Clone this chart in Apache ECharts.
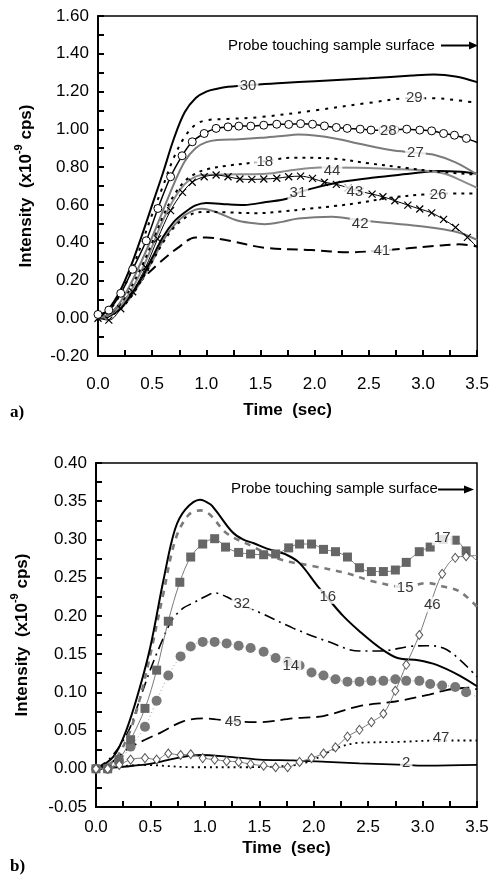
<!DOCTYPE html>
<html><head><meta charset="utf-8">
<script src="https://cdn.jsdelivr.net/npm/echarts/dist/echarts.min.js"></script>
<style>html,body{margin:0;padding:0;background:#fff}#c{width:492px;height:876px}</style>
</head><body><div id="c"></div>
<script>
// ---------- Panel a data ----------
const a30 = [[0,0],[0.1,0.05],[0.2,0.14],[0.3,0.27],[0.4,0.43],[0.5,0.6],[0.6,0.77],[0.7,0.95],[0.8,1.09],[0.9,1.165],[1.0,1.2],[1.1,1.215],[1.2,1.225],[1.4,1.235],[1.7,1.245],[2.0,1.255],[2.5,1.27],[2.9,1.285],[3.1,1.29],[3.3,1.28],[3.5,1.25]];
const a29 = [[0,0],[0.1,0.04],[0.2,0.12],[0.3,0.24],[0.4,0.39],[0.5,0.55],[0.6,0.7],[0.7,0.85],[0.8,0.96],[0.9,1.025],[1.0,1.048],[1.2,1.055],[1.5,1.065],[2.0,1.10],[2.5,1.14],[2.9,1.165],[3.1,1.165],[3.3,1.155],[3.5,1.14]];
const a28 = [[0,0.02],[0.10,0.043],[0.21,0.132],[0.32,0.259],[0.445,0.41],[0.553,0.581],[0.67,0.749],[0.776,0.86],[0.87,0.934],[0.98,0.978],[1.09,1.005],[1.20,1.013],[1.30,1.017],[1.41,1.017],[1.53,1.022],[1.65,1.027],[1.76,1.026],[1.87,1.03],[1.98,1.027],[2.09,1.018],[2.20,1.01],[2.30,1.005],[2.42,1.001],[2.52,0.996],[2.63,0.995],[2.74,0.998],[2.85,1.001],[2.97,0.996],[3.08,0.992],[3.19,0.978],[3.29,0.969],[3.40,0.952],[3.5,0.93]];
const a27 = [[0,0],[0.1,0.02],[0.2,0.08],[0.3,0.18],[0.4,0.3],[0.5,0.43],[0.6,0.57],[0.7,0.71],[0.8,0.83],[0.9,0.9],[1.0,0.932],[1.1,0.944],[1.3,0.948],[1.5,0.955],[1.7,0.965],[1.85,0.972],[2.0,0.967],[2.2,0.95],[2.4,0.925],[2.7,0.89],[2.93,0.876],[3.1,0.865],[3.3,0.825],[3.5,0.76]];
const a18 = [[0,0],[0.1,0.02],[0.2,0.07],[0.3,0.16],[0.4,0.27],[0.5,0.4],[0.6,0.54],[0.7,0.65],[0.8,0.725],[0.9,0.765],[1.0,0.788],[1.2,0.808],[1.5,0.828],[1.8,0.85],[2.15,0.846],[2.5,0.82],[2.85,0.795],[3.15,0.775],[3.5,0.76]];
const a44 = [[0,0],[0.1,0.015],[0.2,0.06],[0.3,0.14],[0.4,0.25],[0.5,0.38],[0.6,0.52],[0.7,0.63],[0.8,0.71],[0.9,0.75],[1.0,0.76],[1.3,0.762],[1.55,0.765],[1.8,0.785],[2.05,0.798],[2.4,0.797],[2.7,0.79],[3.0,0.782],[3.2,0.765],[3.35,0.73],[3.5,0.69]];
const a43 = [[0,0],[0.1,-0.01],[0.21,0.05],[0.32,0.14],[0.44,0.27],[0.55,0.42],[0.67,0.57],[0.78,0.666],[0.87,0.72],[0.98,0.749],[1.09,0.758],[1.20,0.749],[1.31,0.737],[1.42,0.735],[1.53,0.737],[1.65,0.741],[1.76,0.749],[1.87,0.752],[1.98,0.74],[2.09,0.72],[2.20,0.709],[2.31,0.69],[2.42,0.672],[2.53,0.657],[2.63,0.643],[2.74,0.622],[2.86,0.599],[2.97,0.578],[3.08,0.558],[3.19,0.523],[3.30,0.481],[3.41,0.428],[3.5,0.375]];
const a31 = [[0,0],[0.1,0.01],[0.2,0.05],[0.3,0.12],[0.4,0.21],[0.5,0.32],[0.6,0.43],[0.7,0.51],[0.8,0.56],[0.9,0.597],[1.0,0.61],[1.2,0.603],[1.35,0.6],[1.55,0.615],[1.75,0.634],[1.85,0.664],[2.0,0.69],[2.25,0.722],[2.55,0.745],[2.85,0.763],[3.15,0.78],[3.35,0.775],[3.5,0.765]];
const a26 = [[0,0],[0.1,0.01],[0.2,0.045],[0.3,0.11],[0.4,0.2],[0.5,0.3],[0.6,0.4],[0.7,0.48],[0.8,0.53],[0.9,0.558],[1.0,0.563],[1.2,0.56],[1.47,0.556],[1.7,0.565],[1.95,0.58],[2.2,0.595],[2.4,0.61],[2.7,0.638],[3.0,0.655],[3.2,0.66],[3.5,0.66]];
const a42 = [[0,0],[0.1,0.01],[0.2,0.045],[0.3,0.11],[0.4,0.2],[0.5,0.3],[0.6,0.41],[0.7,0.49],[0.8,0.545],[0.9,0.575],[0.96,0.58],[1.1,0.56],[1.27,0.52],[1.4,0.505],[1.54,0.498],[1.7,0.51],[1.85,0.528],[2.16,0.537],[2.4,0.52],[2.65,0.505],[3.0,0.486],[3.2,0.47],[3.35,0.45],[3.5,0.415]];
const a41 = [[0,0],[0.1,0.02],[0.25,0.1],[0.4,0.2],[0.56,0.29],[0.75,0.378],[0.9,0.428],[1.0,0.428],[1.18,0.414],[1.54,0.373],[1.97,0.361],[2.32,0.349],[2.6,0.358],[2.86,0.37],[3.1,0.382],[3.33,0.391],[3.5,0.38]];
const labelsA = [['30',1.385,1.23],['29',2.92,1.168],['28',2.68,0.992],['27',2.93,0.876],['18',1.54,0.828],['44',2.16,0.779],['31',1.845,0.666],['43',2.37,0.669],['26',3.14,0.655],['42',2.42,0.498],['41',2.62,0.357]];

// ---------- Panel b data ----------
const b16 = [[0,0],[0.16,0.016],[0.28,0.051],[0.4,0.105],[0.5,0.16],[0.62,0.247],[0.725,0.313],[0.82,0.339],[0.955,0.352],[1.05,0.346],[1.1,0.338],[1.25,0.31],[1.35,0.3],[1.45,0.295],[1.57,0.288],[1.75,0.28],[1.87,0.269],[2.03,0.24],[2.13,0.223],[2.27,0.2],[2.42,0.18],[2.61,0.158],[2.77,0.145],[2.96,0.142],[3.13,0.136],[3.34,0.122],[3.5,0.108]];
const b15 = [[0,0],[0.16,0.01],[0.3,0.045],[0.4,0.09],[0.5,0.15],[0.62,0.23],[0.73,0.3],[0.85,0.332],[0.96,0.338],[1.05,0.332],[1.2,0.308],[1.42,0.292],[1.69,0.274],[2.0,0.265],[2.3,0.256],[2.55,0.245],[2.84,0.238],[3.04,0.243],[3.2,0.238],[3.34,0.232],[3.5,0.212]];
const b17 = [[0,0],[0.107,0],[0.211,0.012],[0.318,0.038],[0.45,0.079],[0.557,0.129],[0.664,0.193],[0.77,0.244],[0.87,0.277],[0.98,0.294],[1.09,0.301],[1.19,0.29],[1.31,0.283],[1.42,0.281],[1.54,0.28],[1.65,0.281],[1.77,0.289],[1.87,0.294],[1.98,0.294],[2.09,0.287],[2.20,0.284],[2.31,0.277],[2.42,0.263],[2.53,0.258],[2.64,0.258],[2.75,0.26],[2.85,0.27],[2.97,0.284],[3.07,0.29],[3.19,0.3],[3.30,0.299],[3.40,0.285],[3.5,0.272]];
const b14 = [[0,0],[0.107,0],[0.211,0.01],[0.318,0.029],[0.45,0.055],[0.557,0.089],[0.664,0.122],[0.777,0.147],[0.87,0.16],[0.98,0.166],[1.09,0.166],[1.2,0.164],[1.31,0.161],[1.42,0.158],[1.54,0.153],[1.65,0.145],[1.76,0.14],[1.87,0.135],[1.98,0.126],[2.09,0.122],[2.20,0.117],[2.31,0.114],[2.42,0.114],[2.53,0.115],[2.64,0.115],[2.75,0.117],[2.85,0.115],[2.97,0.115],[3.07,0.111],[3.18,0.109],[3.30,0.107],[3.40,0.1],[3.5,0.094]];
const b32 = [[0,0],[0.144,0.016],[0.3,0.05],[0.4,0.09],[0.5,0.13],[0.6,0.165],[0.7,0.195],[0.8,0.21],[0.894,0.217],[1.0,0.225],[1.09,0.23],[1.2,0.225],[1.34,0.214],[1.51,0.204],[1.81,0.184],[2.12,0.167],[2.42,0.154],[2.61,0.154],[2.88,0.16],[3.04,0.161],[3.19,0.158],[3.34,0.143],[3.5,0.12]];
const b45 = [[0,0],[0.11,0.005],[0.2,0.015],[0.28,0.025],[0.45,0.038],[0.59,0.047],[0.8,0.062],[0.985,0.066],[1.26,0.062],[1.51,0.061],[1.81,0.066],[2.09,0.069],[2.42,0.082],[2.75,0.088],[3.06,0.097],[3.22,0.103],[3.43,0.106],[3.5,0.104]];
const b46 = [[0,0],[0.107,0],[0.214,0.005],[0.318,0.012],[0.45,0.014],[0.557,0.012],[0.664,0.02],[0.777,0.018],[0.87,0.019],[0.98,0.014],[1.09,0.012],[1.2,0.01],[1.31,0.009],[1.42,0.006],[1.54,0.004],[1.65,0.002],[1.76,0.002],[1.87,0.009],[1.98,0.014],[2.09,0.02],[2.20,0.028],[2.31,0.042],[2.42,0.051],[2.53,0.061],[2.64,0.072],[2.75,0.102],[2.85,0.136],[2.97,0.175],[3.07,0.215],[3.18,0.255],[3.30,0.276],[3.40,0.278],[3.5,0.279]];
const b47 = [[0,0],[0.2,0.003],[0.43,0.005],[0.9,0.002],[1.35,0.002],[1.84,0.005],[2.0,0.012],[2.21,0.027],[2.42,0.034],[2.75,0.035],[3.17,0.037],[3.5,0.037]];
const b2 = [[0,0],[0.28,0.003],[0.52,0.007],[0.74,0.014],[0.96,0.018],[1.2,0.016],[1.5,0.012],[1.81,0.011],[2.12,0.009],[2.42,0.007],[2.85,0.005],[3.04,0.004],[3.5,0.005]];
const labelsB = [['16',2.13,0.2255],['15',2.84,0.2365],['17',3.18,0.302],['46',3.09,0.2147],['32',1.34,0.216],['14',1.79,0.135],['45',1.26,0.062],['47',3.17,0.040],['2',2.85,0.0075]];

const FONT = 'Liberation Sans, Arial, sans-serif';
const GRAY = '#7a7a7a';
const TICK = '#000';

function noLastSymbol(arr){ return arr.map((p,i)=> i===arr.length-1 ? {value:p, symbol:'none'} : p); }

function xAx(gi, margin, gap){
  return {type:'value', gridIndex:gi, min:0, max:3.5, interval:0.5,
    axisLine:{show:true,onZero:false,lineStyle:{color:'#000',width:2}},
    axisTick:{show:true,inside:true,length:6,lineStyle:{color:TICK,width:2}},
    minorTick:{show:true,splitNumber:2,length:6,lineStyle:{color:TICK,width:2}},
    axisLabel:{formatter:v=>v.toFixed(1),color:'#000',fontSize:17,margin:margin,fontFamily:FONT},
    splitLine:{show:false},
    name:'Time  (sec)', nameLocation:'middle', nameGap:gap,
    nameTextStyle:{fontWeight:'bold',fontSize:17,color:'#000',fontFamily:FONT}};
}
function yAx(gi, min, max, step, gap){
  return {type:'value', gridIndex:gi, min:min, max:max, interval:step,
    axisLine:{show:true,onZero:false,lineStyle:{color:'#000',width:2}},
    axisTick:{show:true,inside:true,length:6,lineStyle:{color:TICK,width:2}},
    minorTick:{show:true,splitNumber:2,length:6,lineStyle:{color:TICK,width:2}},
    axisLabel:{formatter:v=>v.toFixed(2),color:'#000',fontSize:17,margin:9,fontFamily:FONT},
    splitLine:{show:false},
    name:'{a|Intensity  (x10}{s|-9}{a| cps)}', nameLocation:'middle', nameGap:gap,
    nameTextStyle:{color:'#000',rich:{
      a:{fontWeight:'bold',fontSize:17,fontFamily:FONT,color:'#000',lineHeight:22,verticalAlign:'bottom'},
      s:{fontWeight:'bold',fontSize:11,fontFamily:FONT,color:'#000',lineHeight:22,verticalAlign:'top'}}}};
}
function line(gi, data, color, width, type, extra){
  return Object.assign({type:'line', xAxisIndex:gi, yAxisIndex:gi, data:data, smooth:0.35,
    showSymbol:false, symbol:'none', lineStyle:{color:color,width:width,type:type}, z:3, silent:true, animation:false}, extra||{});
}
function labels(gi, arr){
  return {type:'scatter', xAxisIndex:gi, yAxisIndex:gi, z:20, silent:true, animation:false,
    symbolSize:1, itemStyle:{color:'rgba(0,0,0,0)'},
    data: arr.map(d=>[d[1],d[2],d[0]]),
    label:{show:true, position:'inside', formatter:p=>p.value[2], color:'#000', fontSize:15,
      fontFamily:FONT, backgroundColor:'#fff', padding:[0,2]}};
}

const XMARK = 'path://M0,0L10,10M10,0L0,10';

const option = {
  animation:false,
  backgroundColor:'#fff',
  grid:[
    {left:98, top:16, width:381, height:340, show:true, borderColor:'#000', borderWidth:1.5},
    {left:96, top:463, width:381, height:344, show:true, borderColor:'#000', borderWidth:1.5}
  ],
  xAxis:[xAx(0,20,46), xAx(1,12,33)],
  yAxis:[yAx(0,-0.2,1.6,0.2,63), yAx(1,-0.05,0.4,0.05,65)],
  series:[
    line(0,a41,'#000',2,[11,6]),
    line(0,a42,GRAY,2,'solid'),
    line(0,a26,'#000',2,[3,5]),
    line(0,a31,'#000',2,'solid'),
    line(0,a44,'#8c8c8c',2,'solid'),
    line(0,a18,'#000',2,[3,5]),
    line(0,a27,GRAY,2,'solid'),
    line(0,a29,'#000',2,[3,6]),
    line(0,a30,'#000',2,'solid'),
    line(0,noLastSymbol(a43),'#000',1,'solid',{showSymbol:true,symbol:XMARK,symbolSize:7,
      itemStyle:{color:'#000',borderColor:'#000',borderWidth:1.2},z:5}),
    line(0,noLastSymbol(a28),'#000',1.5,'solid',{showSymbol:true,symbol:'circle',symbolSize:8,
      itemStyle:{color:'#fff',borderColor:'#000',borderWidth:1},z:6}),
    labels(0,labelsA),

    line(1,b2,'#000',1.8,'solid'),
    line(1,b47,'#000',1.8,[2,4]),
    line(1,b45,'#000',1.8,[12,6]),
    line(1,b32,'#000',1.6,[11,5,2,5]),
    line(1,b15,GRAY,2.6,[6,6]),
    line(1,b16,'#000',2,'solid'),
    line(1,noLastSymbol(b14),'#999',1,[1,3],{showSymbol:true,symbol:'circle',symbolSize:10,
      itemStyle:{color:'#777',borderColor:'#777',borderWidth:0},z:5}),
    line(1,noLastSymbol(b17),GRAY,1,'solid',{showSymbol:true,symbol:'rect',symbolSize:9,
      itemStyle:{color:'#666',borderColor:'#666',borderWidth:0},z:6}),
    line(1,noLastSymbol(b46),GRAY,1,'solid',{showSymbol:true,symbol:'diamond',symbolSize:[7,9],
      itemStyle:{color:'#fff',borderColor:'#555',borderWidth:1},z:7}),
    labels(1,labelsB)
  ],
  graphic:[
    {type:'text', left:228, top:38, style:{text:'Probe touching sample surface', fontSize:15, fontFamily:FONT, fill:'#000'}},
    {type:'line', shape:{x1:441,y1:45.5,x2:472,y2:45.5}, style:{stroke:'#000',lineWidth:2}},
    {type:'polygon', shape:{points:[[469,41.5],[478,45.5],[469,49.5]]}, style:{fill:'#000'}},
    {type:'text', left:231, top:481, style:{text:'Probe touching sample surface', fontSize:15, fontFamily:FONT, fill:'#000'}},
    {type:'line', shape:{x1:438,y1:489.5,x2:466,y2:489.5}, style:{stroke:'#000',lineWidth:2}},
    {type:'polygon', shape:{points:[[464,485.5],[474,489.5],[464,493.5]]}, style:{fill:'#000'}},
    {type:'text', left:10, top:404, style:{text:'a)', fontSize:17, fontWeight:'bold', fontFamily:'Liberation Serif, Times New Roman, serif', fill:'#000'}},
    {type:'text', left:10, top:858, style:{text:'b)', fontSize:17, fontWeight:'bold', fontFamily:'Liberation Serif, Times New Roman, serif', fill:'#000'}}
  ]
};
const chart = echarts.init(document.getElementById('c'), null, {renderer:'canvas'});
chart.setOption(option);
</script>
</body></html>
